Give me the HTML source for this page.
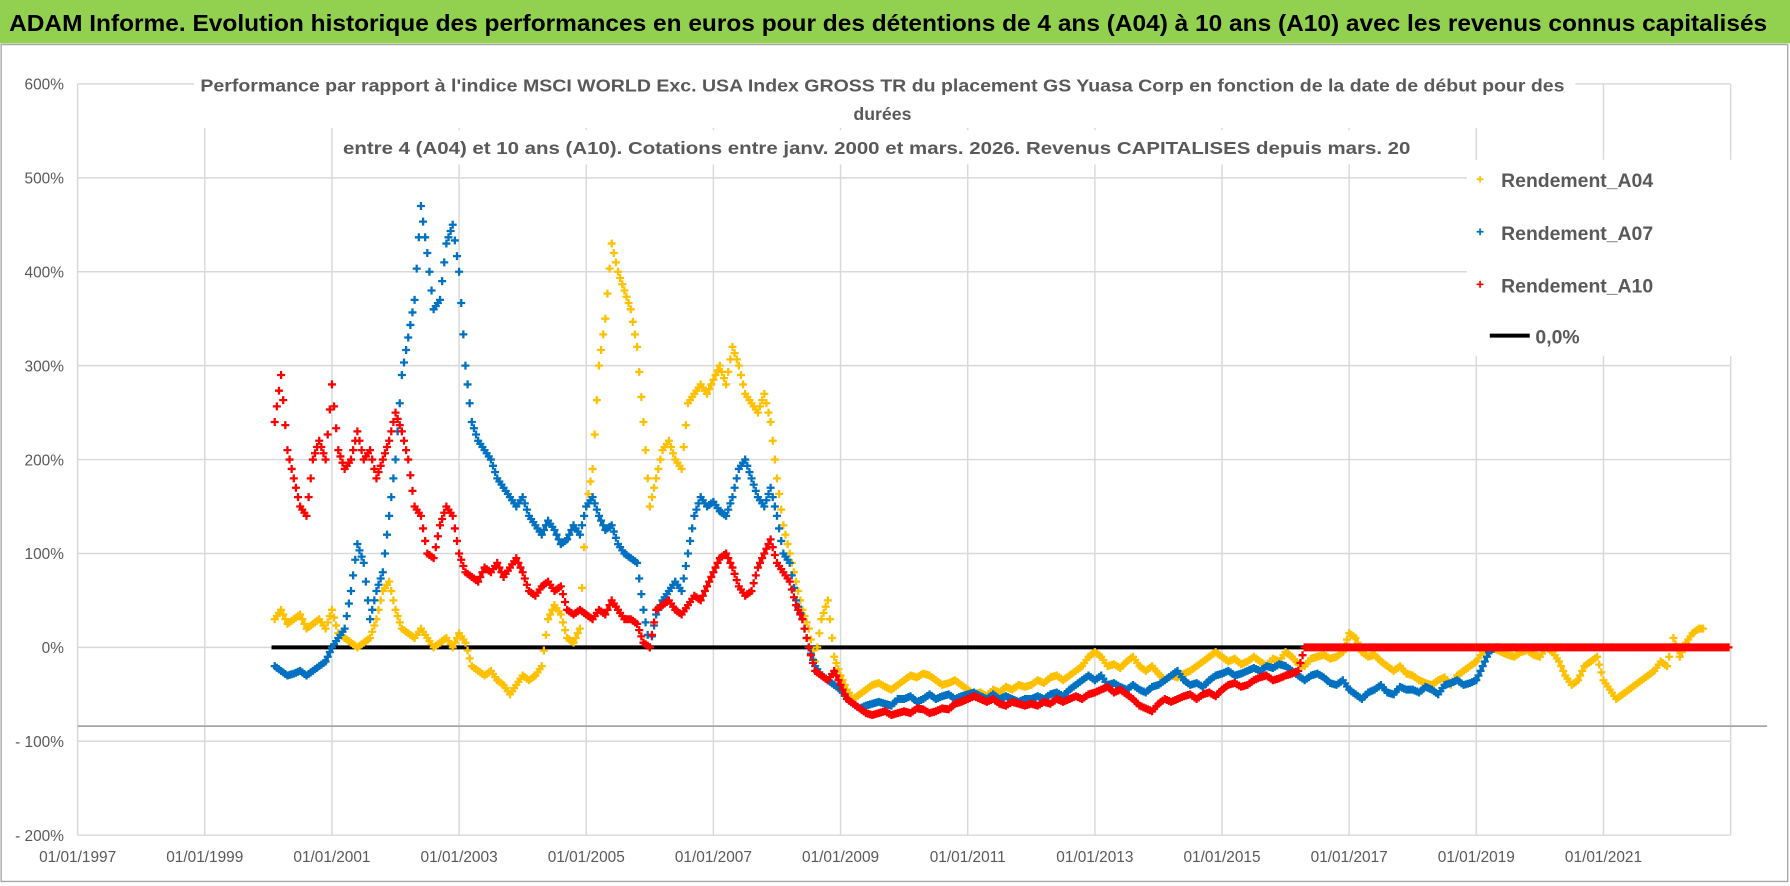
<!DOCTYPE html>
<html><head><meta charset="utf-8">
<style>
html,body{margin:0;padding:0;background:#fff;}
svg{display:block;}
text{font-family:"Liberation Sans",sans-serif;}
</style></head>
<body>
<svg id="chart" width="1790" height="886" viewBox="0 0 1568 776" preserveAspectRatio="none" xmlns="http://www.w3.org/2000/svg">
  <rect x="0" y="0" width="1568" height="776" fill="#fff"/>
  <rect x="0" y="0" width="1568" height="38" fill="#92D050"/>
  <text x="8" y="27" font-size="20" font-weight="bold" fill="#000" textLength="1540" lengthAdjust="spacingAndGlyphs">ADAM Informe. Evolution historique des performances en euros pour des détentions de 4 ans (A04) à 10 ans (A10) avec les revenus connus capitalisés</text>
  <rect x="1" y="39" width="1565" height="733" fill="none" stroke="#a6a6a6" stroke-width="1.2"/>
  <g id="grid"></g>
  <line x1="68" y1="636" x2="1548" y2="636" stroke="#a6a6a6" stroke-width="1.5"/>
  <g id="axes"></g>
  <g id="title-bg">
    <rect x="170" y="60" width="1210" height="52" fill="#fff"/>
    <rect x="295" y="114" width="945" height="30" fill="#fff"/>
  </g>
  <g font-size="15.5" font-weight="bold" fill="#595959" text-anchor="middle">
    <text x="773" y="80" textLength="1195" lengthAdjust="spacingAndGlyphs">Performance par rapport à l'indice MSCI WORLD Exc. USA Index GROSS TR  du placement GS Yuasa Corp en fonction de la date de début pour des</text>
    <text x="773" y="105">durées</text>
    <text x="768" y="135" textLength="935" lengthAdjust="spacingAndGlyphs">entre 4 (A04) et 10 ans (A10).  Cotations entre janv. 2000 et mars. 2026.  Revenus CAPITALISES depuis mars. 20</text>
  </g>
  <g id="series"></g>
  <rect x="1285" y="140" width="265" height="172" fill="#fff"/>
  <g font-size="17" font-weight="bold" fill="#595959">
    <g>
      <path d="M1293.5 157h6M1296.5 154v6" stroke="#FFC000" stroke-width="1.5"/>
      <text x="1315" y="164">Rendement_A04</text>
    </g>
    <g>
      <path d="M1293.5 203h6M1296.5 200v6" stroke="#0070C0" stroke-width="1.5"/>
      <text x="1315" y="210">Rendement_A07</text>
    </g>
    <g>
      <path d="M1293.5 249h6M1296.5 246v6" stroke="#FF0000" stroke-width="1.5"/>
      <text x="1315" y="256">Rendement_A10</text>
    </g>
    <g>
      <line x1="1305" y1="294" x2="1340" y2="294" stroke="#000" stroke-width="3.5"/>
      <text x="1345" y="301">0,0%</text>
    </g>
  </g>
</svg>
<script>
const yTicks = [600,500,400,300,200,100,0,-100,-200];
const yTickLabels = ["600%","500%","400%","300%","200%","100%","0%","- 100%","- 200%"];
const xTicks = [1997,1999,2001,2003,2005,2007,2009,2011,2013,2015,2017,2019,2021];
const xTickLabels = ["01/01/1997","01/01/1999","01/01/2001","01/01/2003","01/01/2005","01/01/2007","01/01/2009","01/01/2011","01/01/2013","01/01/2015","01/01/2017","01/01/2019","01/01/2021"];
const startYear = 2000.1;
const stepYear = 0.1;
const zeroLineStart = 2000.05;
const zeroLineEnd = 2022.9;
const a04 = [30,40,25,30,35,20,25,30,20,
40,15,10,5,0,5,10,30,60,70,
40,20,15,10,20,10,0,5,10,0,
15,5,-20,-25,-30,-25,-35,-40,-50,-40,
-30,-35,-30,-20,30,45,35,10,5,20,
150,190,300,350,430,400,380,360,320,240,
150,180,210,220,200,190,260,270,280,270,
285,300,280,320,300,270,260,250,270,240,
180,130,100,70,40,20,-15,30,50,-10,
-30,-45,-55,-50,-45,-40,-38,-42,-45,-40,
-35,-30,-32,-28,-30,-35,-40,-38,-35,-40,
-45,-50,-48,-52,-45,-48,-42,-45,-40,-42,
-40,-35,-38,-32,-30,-35,-30,-25,-20,-10,
-5,-10,-20,-18,-22,-15,-10,-20,-25,-20,
-28,-35,-30,-32,-28,-25,-20,-15,-10,-5,
-10,-15,-12,-18,-15,-10,-15,-20,-12,-15,
-5,-10,-18,-20,-12,-10,-8,-12,-10,-5,
15,10,-5,-10,-8,-15,-20,-25,-20,-28,
-30,-35,-38,-40,-35,-32,-40,-30,-25,-20,
-15,-5,0,-2,-5,-8,-10,-5,-3,-8,
-10,0,-5,-15,-30,-40,-35,-20,-15,-10,
-35,-45,-55,-50,-45,-40,-35,-30,-25,-15,
-20,10,-10,5,15,20];
const a07 = [-20,-25,-30,-28,-25,-30,-25,-20,-15,
0,10,20,60,110,90,30,60,80,140,
200,290,330,370,470,420,360,370,430,450,
400,300,240,220,210,200,180,170,160,150,
160,140,130,120,135,125,110,115,130,120,
150,160,140,125,130,110,100,95,90,40,
0,35,50,60,70,60,100,140,160,150,
155,145,140,160,190,200,180,160,150,170,
140,100,90,50,30,0,-20,-30,-35,-40,
-45,-55,-60,-65,-62,-60,-58,-60,-62,-55,
-55,-52,-58,-55,-50,-55,-52,-50,-55,-52,
-50,-48,-52,-55,-50,-55,-52,-55,-58,-55,
-55,-52,-55,-50,-48,-52,-45,-40,-35,-30,
-35,-30,-40,-38,-42,-45,-40,-45,-48,-42,
-40,-35,-30,-25,-35,-40,-38,-42,-35,-30,
-28,-25,-30,-28,-25,-22,-25,-20,-22,-18,
-20,-25,-30,-35,-30,-28,-32,-38,-40,-35,
-45,-50,-55,-48,-45,-40,-48,-50,-42,-45,
-45,-48,-42,-45,-50,-40,-38,-35,-40,-38,
-35,-20,-5,0];
const a10 = [240,290,210,180,150,140,200,220,200,
280,210,190,200,230,200,210,180,200,220,
250,230,200,150,140,100,95,130,150,140,
100,80,75,70,85,80,90,75,85,95,
80,60,55,65,70,60,65,40,35,40,
35,30,40,35,50,40,30,30,25,5,
0,40,45,50,40,35,45,55,50,65,
80,95,100,85,65,55,60,85,100,115,
90,80,70,45,30,0,-25,-30,-35,-25,
-40,-55,-60,-65,-70,-72,-70,-68,-72,-70,
-68,-70,-65,-66,-70,-68,-65,-66,-60,-58,
-55,-52,-55,-58,-55,-60,-62,-58,-60,-62,
-60,-62,-58,-60,-55,-58,-55,-52,-55,-50,
-48,-45,-42,-48,-45,-50,-55,-62,-65,-68,
-60,-55,-58,-55,-52,-50,-55,-50,-48,-52,
-45,-40,-38,-42,-40,-35,-32,-30,-35,-33,
-30,-28,-25,
0,0,0,0,0,0,0,0,0,0,0,0,0,0,0,0,0,0,0,0,0,0,0,0,0,0,0,0,0,0,0,0,0,0,0,0,0,0,0,0,0,0,0,0,0,0,0,0,0,0,0,0,0,0,0,0,0,0,0,0,0,0,0,0,0,0,0];

const NS = "http://www.w3.org/2000/svg";
const X0 = 68, X1 = 1516, YEAR0 = 1997, YEAR1 = 2023;
const Y0 = 567, PX_PER_PCT = 0.8225;
function xScale(yr){ return X0 + (yr - YEAR0) * (X1 - X0) / (YEAR1 - YEAR0); }
function yScale(v){ return Y0 - v * PX_PER_PCT; }

const grid = document.getElementById('grid');
const axes = document.getElementById('axes');
yTicks.forEach((t,i)=>{
  const l = document.createElementNS(NS,'line');
  l.setAttribute('x1', X0); l.setAttribute('x2', X1);
  l.setAttribute('y1', yScale(t)); l.setAttribute('y2', yScale(t));
  l.setAttribute('stroke', '#d9d9d9'); l.setAttribute('stroke-width', '1.3');
  
  
  grid.appendChild(l);
  const tx = document.createElementNS(NS,'text');
  tx.setAttribute('x', 56); tx.setAttribute('y', yScale(t) + 5);
  tx.setAttribute('text-anchor', 'end'); tx.setAttribute('font-size', '13.5'); tx.setAttribute('fill', '#595959');
  tx.textContent = yTickLabels[i];
  
  
  axes.appendChild(tx);
});
xTicks.concat([YEAR1]).forEach((t)=>{
  const l = document.createElementNS(NS,'line');
  l.setAttribute('x1', xScale(t)); l.setAttribute('x2', xScale(t));
  l.setAttribute('y1', yScale(600)); l.setAttribute('y2', yScale(-200));
  l.setAttribute('stroke', '#d9d9d9'); l.setAttribute('stroke-width', '1.3');
  
  
  grid.appendChild(l);
});
xTicks.forEach((t,i)=>{
  const tx = document.createElementNS(NS,'text');
  tx.setAttribute('x', xScale(t)); tx.setAttribute('y', 755);
  tx.setAttribute('text-anchor', 'middle'); tx.setAttribute('font-size', '13.5'); tx.setAttribute('fill', '#595959');
  tx.textContent = xTickLabels[i];
  
  
  axes.appendChild(tx);
});

const layer = document.getElementById('series');
const zl = document.createElementNS(NS,'line');
zl.setAttribute('x1', xScale(zeroLineStart)); zl.setAttribute('x2', xScale(zeroLineEnd));
zl.setAttribute('y1', yScale(0)); zl.setAttribute('y2', yScale(0));
zl.setAttribute('stroke', '#000'); zl.setAttribute('stroke-width', '3.5');


layer.appendChild(zl);

const stepPx = xScale(startYear + stepYear) - xScale(startYear);
function drawSeries(vals, color, name){
  const g = document.createElementNS(NS,'g');
  
  
  vals.forEach((v,i)=>{
    const x = xScale(startYear + i*stepYear), y = yScale(v);
    const next = i < vals.length - 1 ? yScale(vals[i+1]) : y;
    let d = '';
    for (let k = 0; k < 3; k++) {
      const f = k/3;
      const xx = x + f*stepPx, yy = y + f*(next - y);
      d += 'M'+(xx-3.5)+' '+yy+'h7M'+xx+' '+(yy-3.5)+'v7';
    }
    const p = document.createElementNS(NS,'path');
    p.setAttribute('d', d);
    p.setAttribute('stroke', color); p.setAttribute('stroke-width', '2');
    
    
    g.appendChild(p);
  });
  layer.appendChild(g);
}
drawSeries(a04, '#FFC000', 'series-a04');
drawSeries(a07, '#0070C0', 'series-a07');
drawSeries(a10, '#FF0000', 'series-a10');
</script>
</body></html>
